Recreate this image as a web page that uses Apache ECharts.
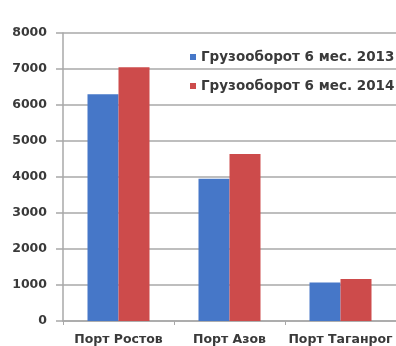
<!DOCTYPE html>
<html>
<head>
<meta charset="utf-8">
<script src="https://cdn.jsdelivr.net/npm/echarts@6/dist/echarts.min.js"></script>
<style>
  html, body { margin: 0; padding: 0; background: #ffffff; }
  #chart { width: 396px; height: 346px; }
</style>
</head>
<body>
<div id="chart"></div>
<script>
// Port cargo turnover, first half of year (thousand tonnes)
const categories = ['Порт Ростов', 'Порт Азов', 'Порт Таганрог'];
const seriesNames = ['Грузооборот 6 мес. 2013', 'Грузооборот 6 мес. 2014'];
const values2013 = [6300, 3950, 1070];
const values2014 = [7050, 4640, 1170];
const yTicks = { min: 0, max: 8000, interval: 1000 };

const textStyle = { fontFamily: 'DejaVu Sans', fontWeight: 'bold', fontSize: 12.5, color: '#3a3a3a' };
const gridColor = '#a8a8a8';

const chart = echarts.init(document.getElementById('chart'), null, { renderer: 'canvas' });
chart.setOption({
  animation: false,
  backgroundColor: '#ffffff',
  grid: { left: 63, right: 0, top: 33, bottom: 25, containLabel: false },
  legend: {
    orient: 'vertical',
    left: 185,
    top: 45,
    itemWidth: 6,
    itemHeight: 6,
    itemGap: 15,
    icon: 'rect',
    textStyle: Object.assign({}, textStyle, { fontSize: 13.5 }),
    data: seriesNames
  },
  xAxis: {
    type: 'category',
    data: categories,
    axisLine: { show: true, lineStyle: { color: gridColor, width: 1.5 } },
    axisTick: { show: true, length: 4, lineStyle: { color: gridColor } },
    axisLabel: Object.assign({}, textStyle, { margin: 12, interval: 0 })
  },
  yAxis: {
    type: 'value',
    min: yTicks.min,
    max: yTicks.max,
    interval: yTicks.interval,
    axisLine: { show: true, lineStyle: { color: gridColor, width: 1.5 } },
    axisTick: { show: true, inside: false, length: 7, lineStyle: { color: gridColor, width: 1.5 } },
    splitLine: { show: true, lineStyle: { color: gridColor, width: 1.5 } },
    axisLabel: Object.assign({}, textStyle, { margin: 16, formatter: (v) => String(v) })
  },
  series: [
    {
      name: seriesNames[0],
      type: 'bar',
      data: values2013,
      barWidth: 31,
      barGap: '0%',
      itemStyle: { color: '#4677c8' }
    },
    {
      name: seriesNames[1],
      type: 'bar',
      data: values2014,
      barWidth: 31,
      barGap: '0%',
      itemStyle: { color: '#cd4b4b' }
    }
  ]
});
</script>
</body>
</html>
